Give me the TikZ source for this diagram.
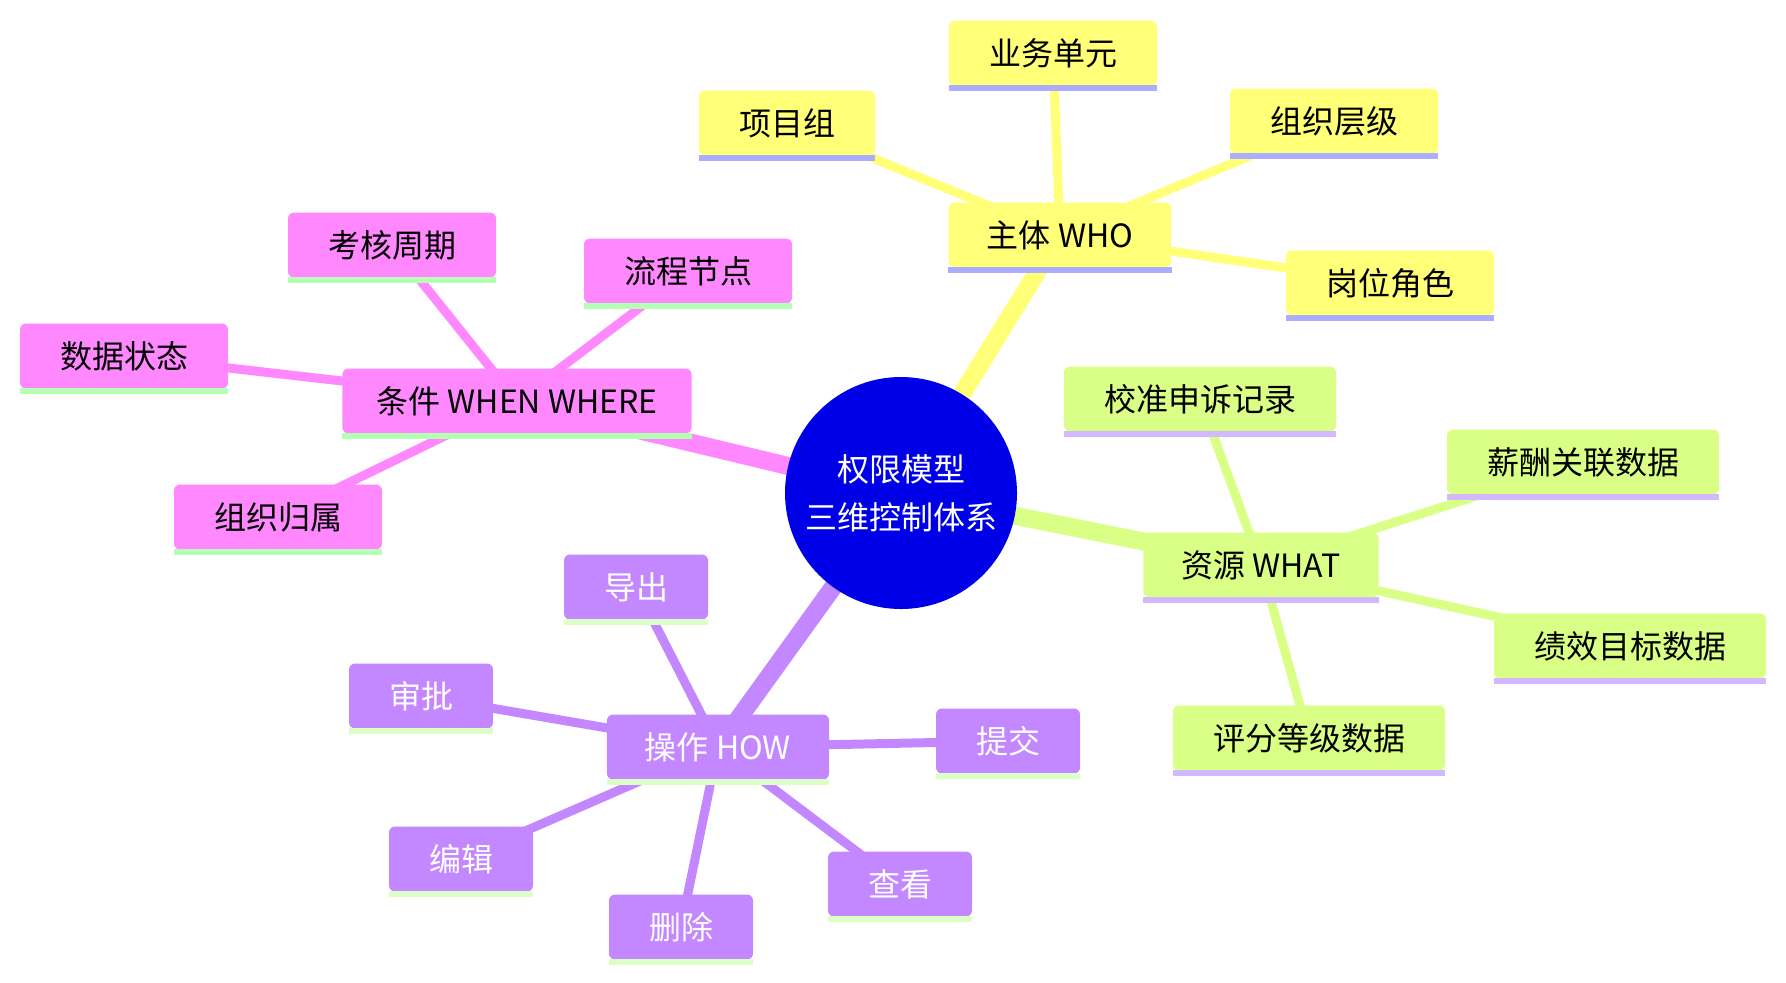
\documentclass[tikz,border=0pt]{standalone}
\usepackage{fontspec}
\usepackage{xcolor}
\usepackage{tikz}
\usetikzlibrary{backgrounds}
\newfontfamily\cjk{Noto Sans CJK SC}
\definecolor{rootblue}{HTML}{0000E8}
\definecolor{whofill}{HTML}{FFFF78}
\definecolor{whobar}{HTML}{ADADFF}
\definecolor{whenfill}{HTML}{FF88FF}
\definecolor{whenbar}{HTML}{B5FFB5}
\definecolor{whatfill}{HTML}{DAFF86}
\definecolor{whatbar}{HTML}{D2B8FF}
\definecolor{howfill}{HTML}{C388FF}
\definecolor{howbar}{HTML}{DDFFC6}
\tikzset{
  mmnode/.style={
    fill=#1, rounded corners=3pt, text=black,
    font=\cjk\fontsize{16}{20}\selectfont,
    minimum height=32.5pt, inner xsep=20pt, inner ysep=0pt,
  },
  trunk/.style={line width=9pt, color=#1},
  twig/.style={line width=4.5pt, color=#1},
}

\begin{document}
\begin{tikzpicture}[
  x=0.5pt, y=-0.5pt,
  whobox/.style={mmnode=whofill},
  whenbox/.style={mmnode=whenfill},
  whatbox/.style={mmnode=whatfill},
  howbox/.style={mmnode=howfill, text=white},
  rootnode/.style={circle, fill=rootblue, minimum size=116pt, inner sep=0pt,
    text=white, align=center, font=\cjk\fontsize{16}{24}\selectfont}
]
  \useasboundingbox (0,0) rectangle (1786,982);

  \node[rootnode] (root) at (901,493) {权限模型\\三维控制体系};

  % who
  \node[whobox, inner xsep=19pt] (who) at (1060,235) {主体 WHO};
  \node[whobox] (unit) at (1053,53) {业务单元};
  \node[whobox] (team) at (787,123) {项目组};
  \node[whobox] (level) at (1334,121) {组织层级};
  \node[whobox] (role) at (1390,283) {岗位角色};

  % when / where
  \node[whenbox, inner xsep=17pt] (when) at (517,401) {条件 WHEN WHERE};
  \node[whenbox] (cycle) at (392,245) {考核周期};
  \node[whenbox] (flow) at (688,271) {流程节点};
  \node[whenbox] (state) at (124,356) {数据状态};
  \node[whenbox] (belong) at (278,517) {组织归属};

  % what
  \node[whatbox, inner xsep=19pt] (what) at (1261,565) {资源 WHAT};
  \node[whatbox] (appeal) at (1200,399) {校准申诉记录};
  \node[whatbox] (salary) at (1583,462) {薪酬关联数据};
  \node[whatbox] (perf) at (1630,646) {绩效目标数据};
  \node[whatbox] (grade) at (1309,738) {评分等级数据};

  % how
  \node[howbox, inner xsep=19pt] (how) at (718,747) {操作 HOW};
  \node[howbox] (export) at (636,587) {导出};
  \node[howbox] (approve) at (421,696) {审批};
  \node[howbox] (submit) at (1008,741) {提交};
  \node[howbox] (edit) at (461,859) {编辑};
  \node[howbox] (view) at (900,884) {查看};
  \node[howbox] (delete) at (681,927) {删除};

  % underline bars
  \foreach \n in {who,unit,team,level,role}
    \fill[whobar] ([yshift=0.5pt]\n.south west) rectangle ([yshift=-2.5pt]\n.south east);
  \foreach \n in {when,cycle,flow,state,belong}
    \fill[whenbar] ([yshift=0.5pt]\n.south west) rectangle ([yshift=-2.5pt]\n.south east);
  \foreach \n in {what,appeal,salary,perf,grade}
    \fill[whatbar] ([yshift=0.5pt]\n.south west) rectangle ([yshift=-2.5pt]\n.south east);
  \foreach \n in {how,export,approve,submit,edit,view,delete}
    \fill[howbar] ([yshift=0.5pt]\n.south west) rectangle ([yshift=-2.5pt]\n.south east);

  \begin{scope}[on background layer]
    \draw[trunk=whofill] (root.center) -- (who.center);
    \draw[trunk=whenfill] (root.center) -- (when.center);
    \draw[trunk=whatfill] (root.center) -- (what.center);
    \draw[trunk=howfill] (root.center) -- (how.center);
    \foreach \n in {unit,team,level,role}
      \draw[twig=whofill] (who.center) -- (\n.center);
    \foreach \n in {cycle,flow,state,belong}
      \draw[twig=whenfill] (when.center) -- (\n.center);
    \foreach \n in {appeal,salary,perf,grade}
      \draw[twig=whatfill] (what.center) -- (\n.center);
    \foreach \n in {export,approve,submit,edit,view,delete}
      \draw[twig=howfill] (how.center) -- (\n.center);
  \end{scope}

\end{tikzpicture}
\end{document}
